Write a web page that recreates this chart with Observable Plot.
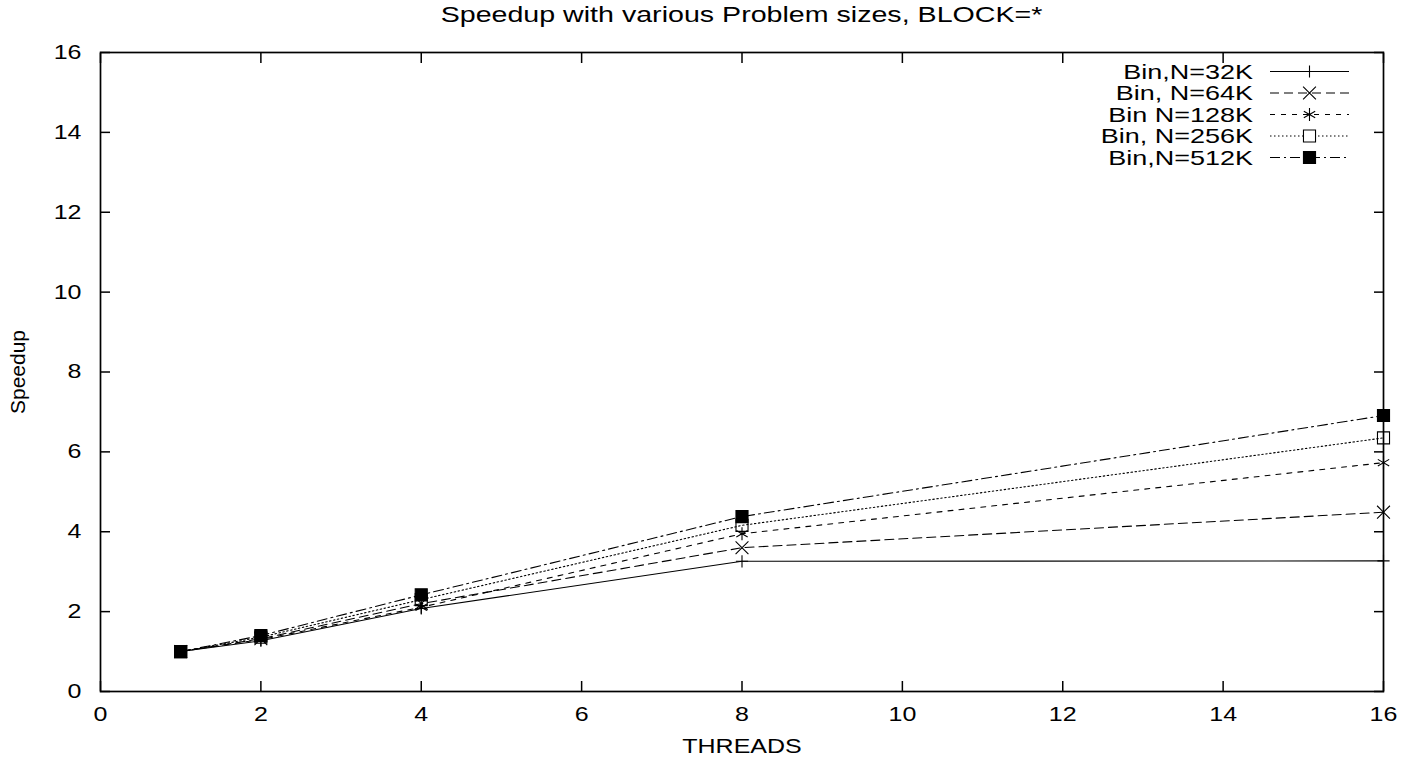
<!DOCTYPE html>
<html>
<head>
<meta charset="utf-8">
<script src="https://cdn.jsdelivr.net/npm/d3@7"></script>
<script src="https://cdn.jsdelivr.net/npm/@observablehq/plot@0.6"></script>
<style>
  html, body { margin: 0; padding: 0; background: #fff; }
  #wrap { position: relative; width: 1416px; height: 761px; font-family: "Liberation Sans", Arial, sans-serif; color: #000; }
  #title { position: absolute; left: 100px; top: 0; width: 1283px; height: 28px; line-height: 30px; text-align: center; font-size: 22px; transform: scaleX(1.3); transform-origin: center; white-space: nowrap; }
  #chart { position: absolute; left: 0; top: 28px; }
  #legend { position: absolute; left: 0; top: 0; pointer-events: none; }
</style>
</head>
<body>
<div id="wrap">
  <div id="title"></div>
  <div id="chart"></div>
  <svg id="legend" width="1416" height="761"></svg>
</div>
<script>
// ---- data ----
const threads = [1, 2, 4, 8, 16];
const seriesNames = ["Bin,N=32K", "Bin, N=64K", "Bin N=128K", "Bin, N=256K", "Bin,N=512K"];
const speedup32K  = [1.00, 1.27, 2.08, 3.26, 3.27];
const speedup64K  = [1.00, 1.32, 2.20, 3.60, 4.49];
const speedup128K = [1.00, 1.30, 2.11, 3.95, 5.73];
const speedup256K = [1.00, 1.36, 2.30, 4.16, 6.35];
const speedup512K = [1.00, 1.40, 2.42, 4.38, 6.91];
const xTicks = [0, 2, 4, 6, 8, 10, 12, 14, 16];
const yTicks = [0, 2, 4, 6, 8, 10, 12, 14, 16];
const titleText = "Speedup with various Problem sizes, BLOCK=*";
const xLabel = "THREADS";
const yLabel = "Speedup";

// ---- styles ----
const seriesValues = [speedup32K, speedup64K, speedup128K, speedup256K, speedup512K];
const dashes  = [null, "9,5", "5,6", "1.5,2.5", "10,4,2,4"];
const symbols = ["plus", "times", "asterisk", "square", "square"];
const fills   = ["none", "none", "none", "none", "#000"];
const radii   = [4.0, 5.9, 6.2, 6.8, 6.8];
const d3Sym = {plus: d3.symbolPlus, times: d3.symbolTimes, asterisk: d3.symbolAsterisk, square: d3.symbolSquare};

const rows = [];
seriesNames.forEach((s, i) => threads.forEach((t, j) => rows.push({series: s, threads: t, speedup: seriesValues[i][j]})));

document.getElementById("title").textContent = titleText;

const noText = () => "";
const marks = [
  Plot.frame({stroke: "#000", strokeWidth: 1.7}),
  Plot.axisY(yTicks, {anchor: "left", tickSize: 10, dx: 10, tickFormat: noText, label: null, stroke: "#000", strokeWidth: 1.5}),
  Plot.axisY(yTicks, {anchor: "right", tickSize: 10, dx: -10, tickFormat: noText, label: null, stroke: "#000", strokeWidth: 1.5}),
  Plot.axisX(xTicks, {anchor: "bottom", tickSize: 10, dy: -10, tickFormat: noText, label: null, stroke: "#000", strokeWidth: 1.5}),
  Plot.axisX(xTicks, {anchor: "top", tickSize: 10, dy: 10, tickFormat: noText, label: null, stroke: "#000", strokeWidth: 1.5}),
  Plot.axisY(yTicks, {anchor: "left", tickSize: 0, tickPadding: 19, label: null, fill: "#000"}),
  Plot.axisX(xTicks, {anchor: "bottom", tickSize: 0, tickPadding: 15, label: null, fill: "#000"}),
  Plot.text([xLabel], {frameAnchor: "bottom", dy: 55, text: d => d, lineAnchor: "middle", textAnchor: "middle", fill: "#000"}),
  Plot.text([yLabel], {frameAnchor: "left", dx: -82, rotate: -90, text: d => d, lineAnchor: "middle", textAnchor: "middle", fill: "#000", fontSize: 21})
];
seriesNames.forEach((s, i) => {
  const data = rows.filter(d => d.series === s);
  marks.push(Plot.line(data, {x: "threads", y: "speedup", stroke: "#000", strokeWidth: 1.1, strokeDasharray: dashes[i]}));
});
seriesNames.forEach((s, i) => {
  const data = rows.filter(d => d.series === s);
  marks.push(Plot.dot(data, {x: "threads", y: "speedup", symbol: () => symbols[i], r: radii[i], stroke: "#000", strokeWidth: 1.1, fill: fills[i]}));
});

const chart = Plot.plot({
  width: 1416,
  height: 733,
  marginLeft: 100,
  marginRight: 33,
  marginTop: 24,
  marginBottom: 70,
  style: {fontFamily: "'Liberation Sans', Arial, sans-serif", fontSize: "20px", color: "#000", background: "#fff", overflow: "visible"},
  x: {domain: [0, 16]},
  y: {domain: [0, 16]},
  symbol: {type: "identity"},
  marks
});
document.getElementById("chart").appendChild(chart);

// horizontal stretch of text to match the reference's wide lettering
chart.querySelectorAll("text").forEach(t => {
  const tr = t.getAttribute("transform") || "";
  if (tr.includes("rotate")) return;
  t.setAttribute("transform", tr + " scale(1.25,1)");
});

// ---- legend ----
const lg = d3.select("#legend");
const rowY0 = 71.5, rowStep = 21.5;
seriesNames.forEach((s, i) => {
  const y = rowY0 + i * rowStep;
  lg.append("text")
    .attr("transform", `translate(1253,${y}) scale(1.35,1)`)
    .attr("text-anchor", "end")
    .attr("dy", "0.35em")
    .attr("font-family", "'Liberation Sans', Arial, sans-serif")
    .attr("font-size", 20)
    .attr("fill", "#000")
    .text(s);
  lg.append("line")
    .attr("x1", 1270).attr("x2", 1349).attr("y1", y).attr("y2", y)
    .attr("stroke", "#000").attr("stroke-width", 1.1)
    .attr("stroke-dasharray", dashes[i]);
  lg.append("path")
    .attr("transform", `translate(1309.5,${y})`)
    .attr("d", d3.symbol(d3Sym[symbols[i]], Math.PI * radii[i] * radii[i])())
    .attr("fill", fills[i] === "none" ? "#fff" : fills[i])
    .attr("stroke", "#000").attr("stroke-width", 1.1);
});
</script>
</body>
</html>
